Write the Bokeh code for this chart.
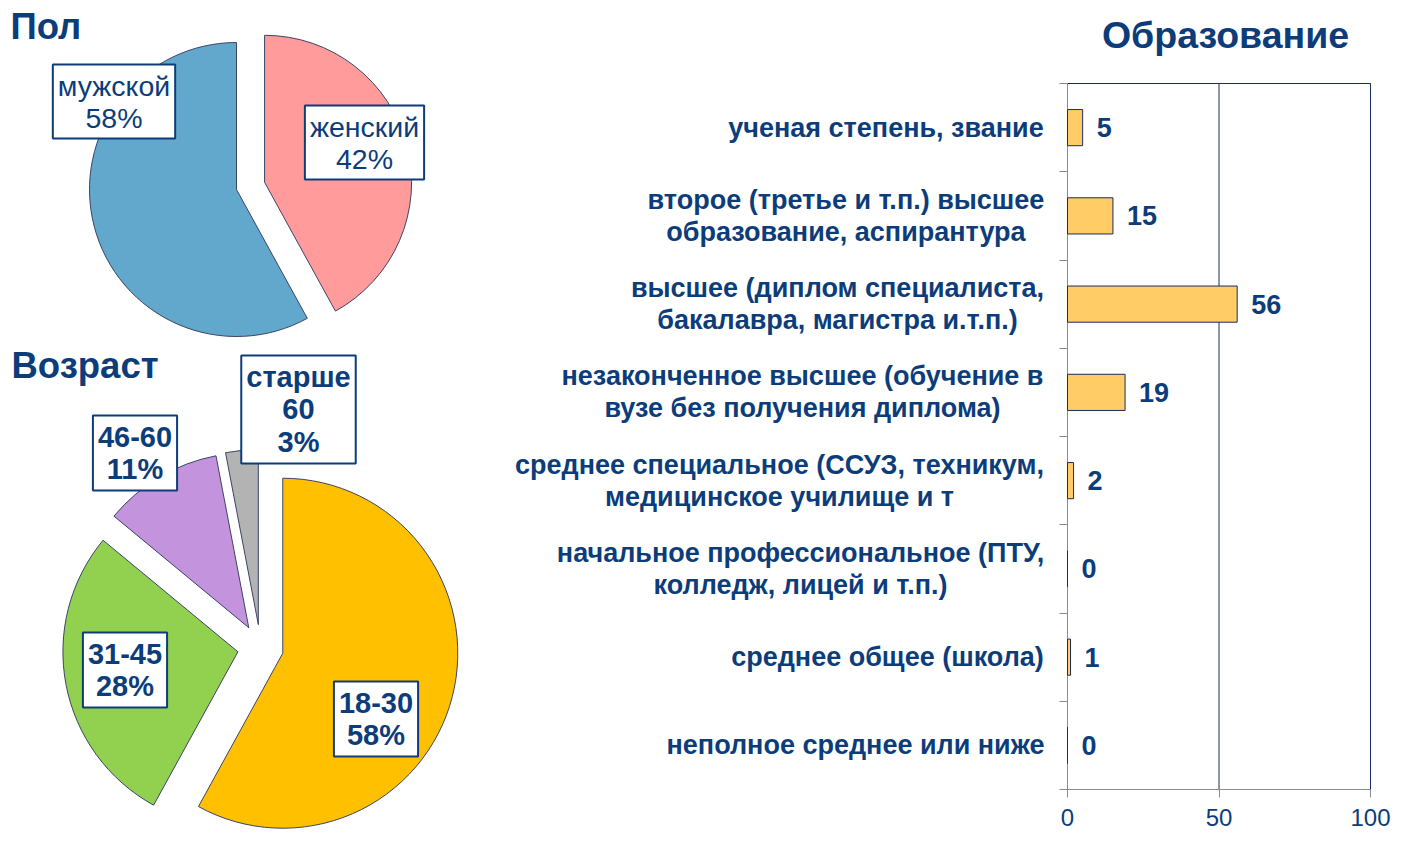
import numpy as np
from bokeh.plotting import figure
from bokeh.models import Range1d, Label, FixedTicker, LinearAxis
from bokeh.embed import file_html
from bokeh.resources import INLINE
from bokeh.core.properties import value

# ---------------- data ----------------
gender_names = ["женский", "мужской"]
gender_values = [42, 58]
gender_colors = ["#FF9B9B", "#62A8CC"]
gender_explode = [29, 0]

age_names = ["18-30", "31-45", "46-60", "старше\n60"]
age_values = [58, 28, 11, 3]
age_colors = ["#FFC000", "#92D050", "#C493DD", "#B3B3B3"]
age_explode = [23, 23, 23, 23]

edu_categories = [
    "ученая степень, звание",
    "второе (третье и т.п.) высшее\nобразование, аспирантура",
    "высшее (диплом специалиста,\nбакалавра, магистра и.т.п.)",
    "незаконченное высшее (обучение в\nвузе без получения диплома)",
    "среднее специальное (ССУЗ, техникум,\nмедицинское училище и т",
    "начальное профессиональное (ПТУ,\nколледж, лицей и т.п.)",
    "среднее общее (школа)",
    "неполное среднее или ниже",
]
edu_values = [5, 15, 56, 19, 2, 0, 1, 0]
x_ticks = [0, 50, 100]

# ---------------- styles / layout ----------------
NAVY = "#0C3D7A"
LINE = "#1A2B5E"
AXIS_GREY = "#8C8C8C"
WEDGE_LINE = "#3A4466"
FONT = "Liberation Sans"

W, H = 1420, 840                 # canvas, 1 data unit = 1 px (y negated)
BAR_PX = (1067, 1370)            # pixel x of the bar axis start / end
BAR_PY = (789, 83)               # pixel y of the bar area bottom / top

gender_center = (236, -189)
gender_radius = 147
gender_label_pos = [(364, -142), (113.5, -101)]

age_center = (260, -647)
age_radius = 175
age_label_pos = [(375.5, -718.5), (124.5, -669.5), (134.5, -452.5), (298, -409)]

edu_label_x = [885.5, 845.5, 837, 802, 779, 800, 887, 855]


def draw_pie(p, values, colors, explode, center, r):
    v = np.asarray(values, dtype=float)
    frac = v / v.sum()
    cum_end = np.cumsum(frac)
    cum_start = cum_end - frac
    start = np.pi / 2 - cum_end * 2 * np.pi
    end = np.pi / 2 - cum_start * 2 * np.pi
    mid = (start + end) / 2
    ex = np.asarray(explode, dtype=float)
    x = center[0] + ex * np.cos(mid)
    y = center[1] + ex * np.sin(mid)
    p.wedge(x=x, y=y, radius=r, start_angle=start, end_angle=end,
            fill_color=colors, line_color=WEDGE_LINE, line_width=1)


def add_box_label(p, x, y, text, bold):
    p.add_layout(Label(
        x=x, y=y, text=text, text_align="center", text_baseline="middle",
        text_font=FONT, text_font_size="29px" if bold else "28.5px",
        text_font_style="bold" if bold else "normal",
        text_color=NAVY, text_line_height=1.03 if bold else 1.0,
        background_fill_color="white", border_line_color=NAVY,
        border_line_width=2, padding=5))


p = figure(width=W, height=H, x_range=Range1d(0, W), y_range=Range1d(-H, 0),
           x_axis_type=None, y_axis_type=None, title=None, output_backend="svg",
           toolbar_location=None, min_border=0)
p.outline_line_color = None

# ---------------- pies ----------------
draw_pie(p, gender_values, gender_colors, gender_explode, gender_center, gender_radius)
draw_pie(p, age_values, age_colors, age_explode, age_center, age_radius)

for (x, y), nm, v in zip(gender_label_pos, gender_names, gender_values):
    add_box_label(p, x, y, f"{nm}\n{v}%", bold=False)
for (x, y), nm, v in zip(age_label_pos, age_names, age_values):
    add_box_label(p, x, y, f"{nm}\n{v}%", bold=True)

for tx, ty, t, al in [(10, -26, "Пол", "left"), (11, -365, "Возраст", "left"),
                      (1225, -34, "Образование", "center")]:
    p.add_layout(Label(x=tx, y=ty, text=t, text_align=al, text_baseline="middle",
                       text_font=FONT, text_font_size="36.5px" if al == "left" else "37.5px",
                       text_font_style="bold", text_color=NAVY))

# ---------------- bar chart (own ranges) ----------------
n = len(edu_categories)
xmax = x_ticks[-1]
ppx = (BAR_PX[1] - BAR_PX[0]) / xmax
ppy = (BAR_PY[0] - BAR_PY[1]) / n
p.extra_x_ranges = {"bar": Range1d(-BAR_PX[0] / ppx, (W - BAR_PX[0]) / ppx)}
p.extra_y_ranges = {"cat": Range1d((BAR_PY[0] - H) / ppy, BAR_PY[0] / ppy)}
ys = (n - 1 - np.arange(n)) + 0.5
RN = dict(x_range_name="bar", y_range_name="cat")

# plot-area border and grid line
p.quad(left=0, right=xmax, bottom=0, top=n, fill_color=None, line_color=LINE,
       line_width=1, **RN)
p.segment(x0=x_ticks[1:], y0=0, x1=x_ticks[1:], y1=n, line_color=LINE, line_width=1, **RN)

bars = p.hbar(y=ys, left=0, right=edu_values, height=0.41, fill_color="#FFCC66",
              line_color=LINE, line_width=1, **RN)
bars.level = "overlay"
p.text(x=edu_values, y=ys, text=[str(v) for v in edu_values], x_offset=14,
       text_baseline="middle", text_align="left", text_font=value(FONT),
       text_font_size="27px", text_font_style="bold", text_color=NAVY, **RN)

# category labels
p.text(x=edu_label_x, y=ys, text=edu_categories, text_align="center",
       text_baseline="middle", text_font=value(FONT), text_font_size="27px",
       text_font_style="bold", text_color=NAVY, text_line_height=1.06,
       y_range_name="cat")

xaxis = LinearAxis(x_range_name="bar", y_range_name="cat", fixed_location=0,
                   bounds=(0, xmax), ticker=FixedTicker(ticks=x_ticks),
                   major_label_text_font=FONT, major_label_text_font_size="24px",
                   major_label_text_color=NAVY, major_label_standoff=11,
                   axis_line_color=AXIS_GREY, major_tick_line_color=AXIS_GREY,
                   major_tick_out=8, major_tick_in=0, minor_tick_line_color=None)
p.add_layout(xaxis, "below")

yaxis = LinearAxis(x_range_name="bar", y_range_name="cat", fixed_location=0,
                   bounds=(0, n), ticker=FixedTicker(ticks=list(range(n + 1))),
                   major_label_text_color=None,
                   axis_line_color=AXIS_GREY, major_tick_line_color=AXIS_GREY,
                   major_tick_out=8, major_tick_in=0, minor_tick_line_color=None)
p.add_layout(yaxis, "left")

open("out.html", "w").write(file_html(p, INLINE, "chart"))
